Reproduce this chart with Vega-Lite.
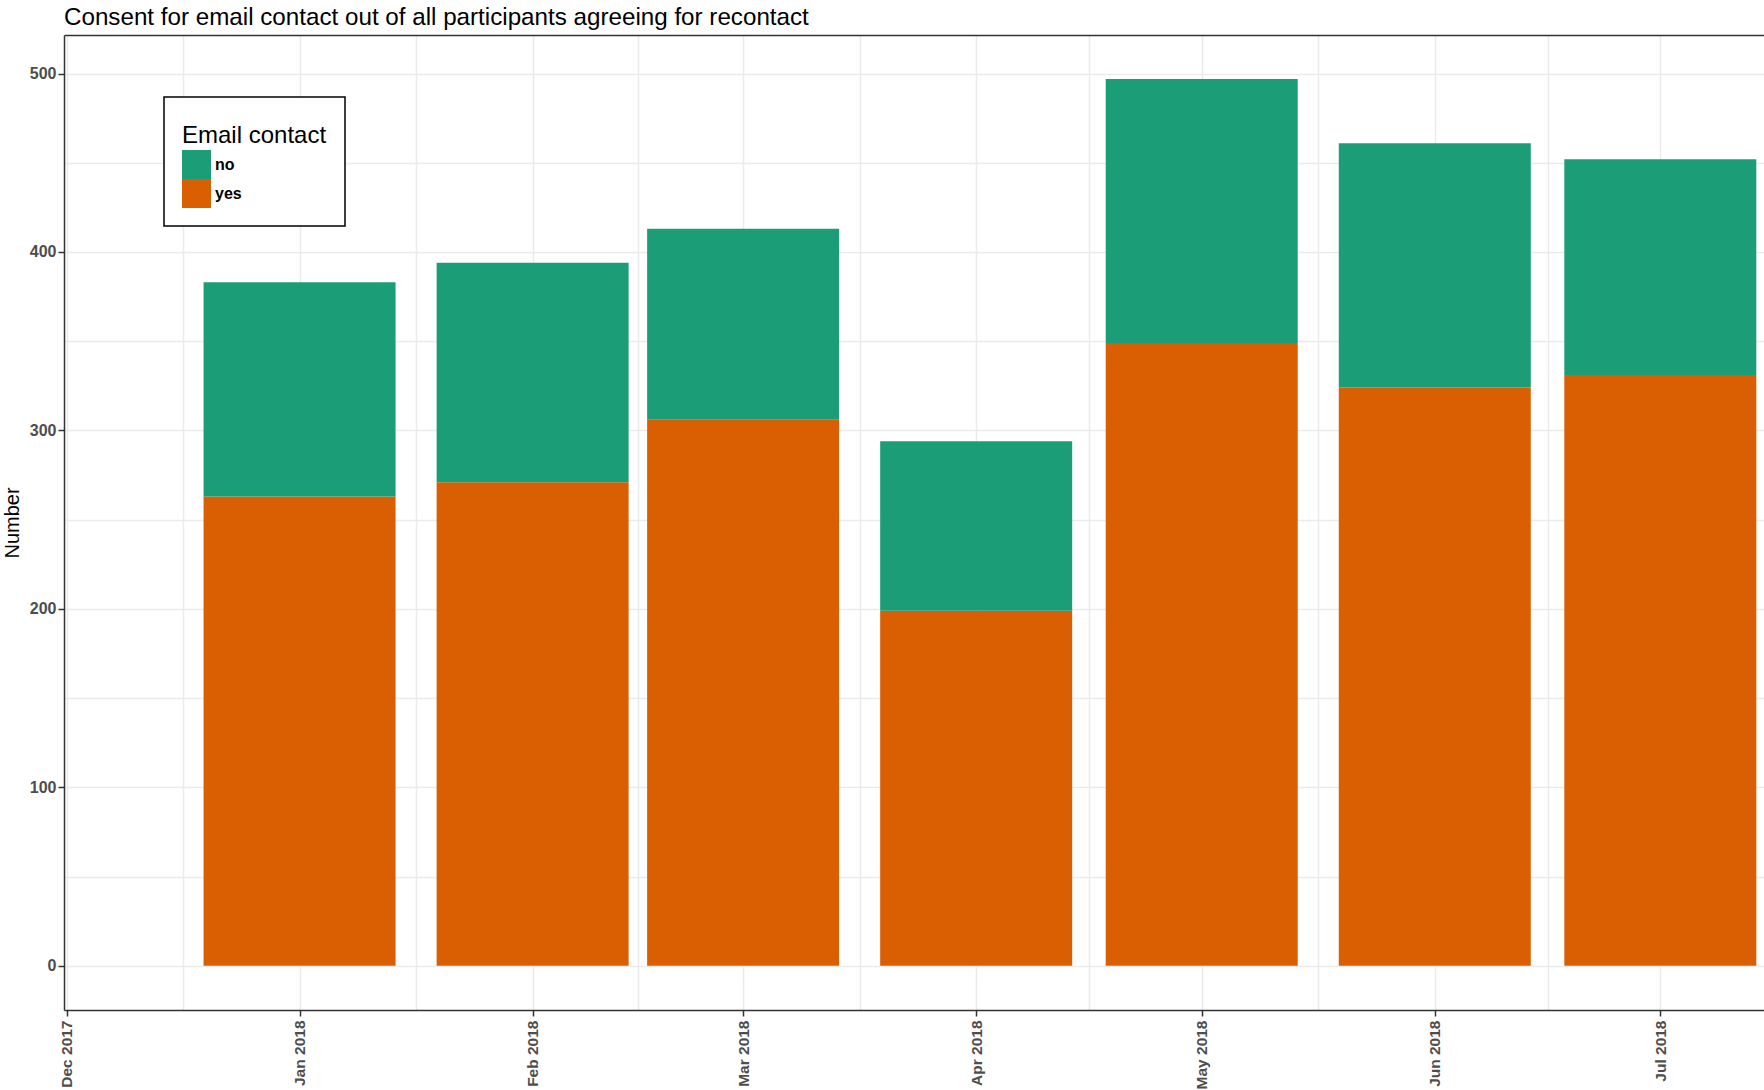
{
  "$schema": "https://vega.github.io/schema/vega-lite/v6.json",
  "width": 1700,
  "height": 975,
  "autosize": {"type": "none"},
  "padding": {"left": 64, "top": 35, "right": 0, "bottom": 80},
  "background": "white",
  "title": {
    "text": "Consent for email contact out of all participants agreeing for recontact",
    "anchor": "start",
    "frame": "group",
    "font": "Liberation Sans",
    "fontSize": 24.2,
    "fontWeight": "normal",
    "color": "#000000",
    "offset": 5
  },
  "config": {"view": {"stroke": null}, "font": "Liberation Sans"},
  "data": {
    "values": [
      {"month": "2018-01-01", "email": "yes", "count": 263},
      {"month": "2018-01-01", "email": "no", "count": 120},
      {"month": "2018-02-01", "email": "yes", "count": 271},
      {"month": "2018-02-01", "email": "no", "count": 123},
      {"month": "2018-03-01", "email": "yes", "count": 306},
      {"month": "2018-03-01", "email": "no", "count": 107},
      {"month": "2018-04-01", "email": "yes", "count": 199},
      {"month": "2018-04-01", "email": "no", "count": 95},
      {"month": "2018-05-01", "email": "yes", "count": 349},
      {"month": "2018-05-01", "email": "no", "count": 148},
      {"month": "2018-06-01", "email": "yes", "count": 324},
      {"month": "2018-06-01", "email": "no", "count": 137},
      {"month": "2018-07-01", "email": "yes", "count": 331},
      {"month": "2018-07-01", "email": "no", "count": 121}
    ]
  },
  "layer": [
    {
      "mark": {"type": "bar", "width": 192},
      "encoding": {
        "x": {
          "field": "month",
          "type": "temporal",
          "scale": {
            "type": "utc",
            "nice": false,
            "padding": 0,
            "domain": [
              {"year": 2017, "month": "nov", "date": 30, "hours": 16, "utc": true},
              {"year": 2018, "month": "jul", "date": 14, "hours": 19, "utc": true}
            ]
          },
          "axis": {
            "orient": "bottom",
            "title": null,
            "values": [
              {"year": 2017, "month": "dec", "date": 1, "utc": true},
              {"year": 2018, "month": "jan", "date": 1, "utc": true},
              {"year": 2018, "month": "feb", "date": 1, "utc": true},
              {"year": 2018, "month": "mar", "date": 1, "utc": true},
              {"year": 2018, "month": "apr", "date": 1, "utc": true},
              {"year": 2018, "month": "may", "date": 1, "utc": true},
              {"year": 2018, "month": "jun", "date": 1, "utc": true},
              {"year": 2018, "month": "jul", "date": 1, "utc": true}
            ],
            "labelExpr": "utcFormat(datum.value, '%b %Y')",
            "labelAngle": 270,
            "labelAlign": "right",
            "labelBaseline": "middle",
            "labelFontSize": 15.5,
            "labelFontWeight": "bold",
            "labelColor": "#4D4D4D",
            "labelPadding": 4,
            "labelFlush": false,
            "labelOverlap": false,
            "tickSize": 6,
            "tickColor": "#333333",
            "tickWidth": 1.5,
            "domainColor": "#333333",
            "domainWidth": 1.5,
            "grid": true,
            "gridColor": "#EBEBEB",
            "gridWidth": 1.5
          }
        },
        "y": {
          "field": "count",
          "type": "quantitative",
          "stack": "zero",
          "scale": {"domain": [-24.8, 521.6], "nice": false, "zero": false},
          "axis": {
            "orient": "left",
            "title": "Number",
            "titleFontSize": 20,
            "titleFontWeight": "normal",
            "titleColor": "#000000",
            "titlePadding": 7,
            "values": [0, 100, 200, 300, 400, 500],
            "labelFontSize": 16,
            "labelFontWeight": "bold",
            "labelColor": "#4D4D4D",
            "labelPadding": 2,
            "tickSize": 6,
            "tickColor": "#333333",
            "tickWidth": 1.5,
            "domainColor": "#333333",
            "domainWidth": 1.5,
            "grid": true,
            "gridColor": "#EBEBEB",
            "gridWidth": 1.5
          }
        },
        "color": {
          "field": "email",
          "type": "nominal",
          "scale": {"domain": ["no", "yes"], "range": ["#1B9E77", "#D95F02"]},
          "legend": {
            "title": ["", "Email contact"],
            "orient": "none",
            "legendX": 100,
            "legendY": 62,
            "titleFontSize": 24,
            "titleLineHeight": 9,
            "titleFontWeight": "normal",
            "titleColor": "#000000",
            "titlePadding": 2,
            "labelFontSize": 16,
            "labelFontWeight": "bold",
            "labelColor": "#000000",
            "labelOffset": 4,
            "symbolType": "square",
            "symbolSize": 841,
            "symbolStrokeWidth": 0,
            "symbolOpacity": 1,
            "rowPadding": 0,
            "padding": 18,
            "strokeColor": "#000000",
            "fillColor": "#FFFFFF",
            "encode": {"legend": {"update": {"strokeWidth": {"value": 1.5}}}}
          }
        },
        "order": {"field": "email", "sort": "descending"}
      }
    },
    {
      "mark": {"type": "point", "opacity": 0},
      "encoding": {
        "x": {
          "field": "month",
          "type": "temporal",
          "scale": {
            "type": "utc",
            "nice": false,
            "padding": 0,
            "domain": [
              {"year": 2017, "month": "nov", "date": 30, "hours": 16, "utc": true},
              {"year": 2018, "month": "jul", "date": 14, "hours": 19, "utc": true}
            ]
          },
          "axis": {
            "orient": "top",
            "title": null,
            "labels": false,
            "ticks": false,
            "domain": true,
            "domainColor": "#333333",
            "domainWidth": 1.5,
            "grid": true,
            "gridColor": "#EBEBEB",
            "gridWidth": 1.5,
            "values": [
              {"year": 2017, "month": "dec", "date": 16, "hours": 12, "utc": true},
              {"year": 2018, "month": "jan", "date": 16, "hours": 12, "utc": true},
              {"year": 2018, "month": "feb", "date": 15, "utc": true},
              {"year": 2018, "month": "mar", "date": 16, "hours": 12, "utc": true},
              {"year": 2018, "month": "apr", "date": 16, "utc": true},
              {"year": 2018, "month": "may", "date": 16, "hours": 12, "utc": true},
              {"year": 2018, "month": "jun", "date": 16, "utc": true}
            ]
          }
        },
        "y": {
          "field": "count",
          "type": "quantitative",
          "scale": {"domain": [-24.8, 521.6], "nice": false, "zero": false},
          "axis": {
            "orient": "right",
            "title": null,
            "labels": false,
            "ticks": false,
            "domain": false,
            "grid": true,
            "gridColor": "#EBEBEB",
            "gridWidth": 1.5,
            "values": [50, 150, 250, 350, 450]
          }
        }
      }
    }
  ],
  "resolve": {"axis": {"x": "independent", "y": "independent"}}
}
